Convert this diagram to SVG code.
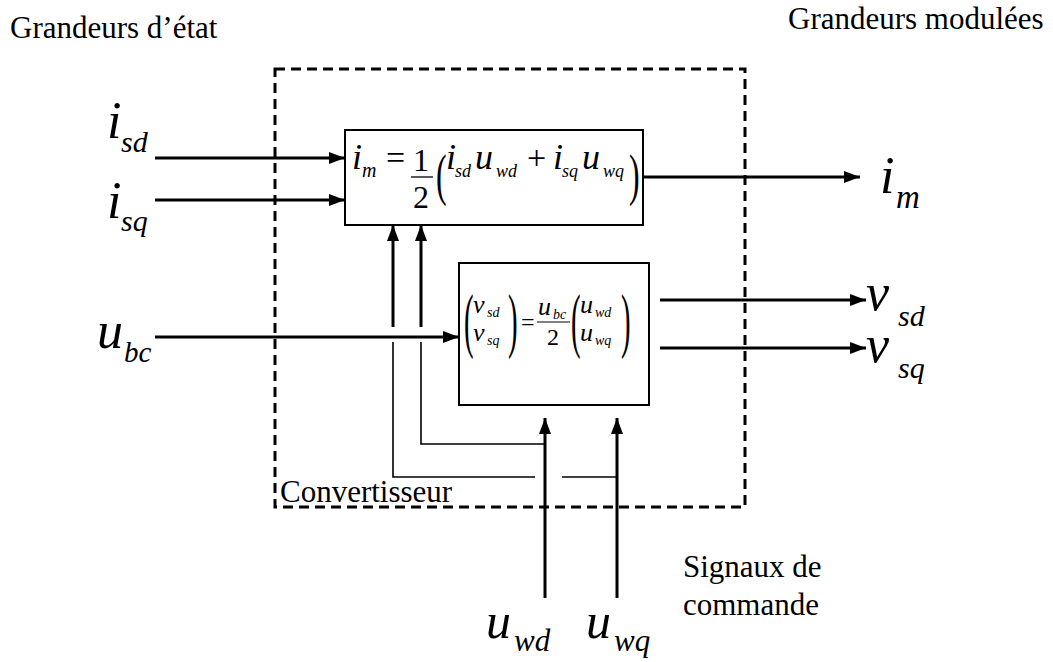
<svg xmlns="http://www.w3.org/2000/svg" width="1053" height="662" viewBox="0 0 1053 662" font-family="'Liberation Serif', 'Times New Roman', 'DejaVu Serif', serif">
<style>
text{font-family:"Liberation Serif","Times New Roman","DejaVu Serif",serif;fill:#000}
.lbl{font-size:31px}
.m{font-style:italic}
.thick{stroke:#000;stroke-width:3;fill:none}
.thin{stroke:#000;stroke-width:1.6;fill:none}
.box{stroke:#000;stroke-width:2;fill:#fff}
.dash{stroke:#000;stroke-width:3;fill:none;stroke-dasharray:10 6}
</style>
<defs>
<marker id="ah" markerUnits="userSpaceOnUse" markerWidth="16" markerHeight="12" refX="16" refY="6" orient="auto">
<path d="M0,0 L16,6 L0,12 Z" fill="#000"/>
</marker>
</defs>
<rect class="dash" x="275" y="69" width="470" height="438"/>
<text class="lbl" x="10" y="38">Grandeurs d’état</text>
<text class="lbl" x="788" y="29">Grandeurs modulées</text>
<text class="lbl" x="683" y="577">Signaux de</text>
<text class="lbl" x="683" y="615">commande</text>
<text class="lbl" x="280" y="502">Convertisseur</text>

<g id="connectors">
<line class="thick" x1="155" y1="158" x2="345" y2="158" marker-end="url(#ah)"/>
<line class="thick" x1="155" y1="200" x2="345" y2="200" marker-end="url(#ah)"/>
<line class="thick" x1="155" y1="337" x2="459" y2="337" marker-end="url(#ah)"/>
<line class="thick" x1="643" y1="177" x2="860" y2="177" marker-end="url(#ah)"/>
<line class="thick" x1="660" y1="300" x2="866" y2="300" marker-end="url(#ah)"/>
<line class="thick" x1="660" y1="348" x2="866" y2="348" marker-end="url(#ah)"/>
<line class="thick" x1="393" y1="327" x2="393" y2="225" marker-end="url(#ah)"/>
<line class="thick" x1="421" y1="327" x2="421" y2="225" marker-end="url(#ah)"/>
<polyline class="thin" points="393,342 393,477 535,477"/>
<polyline class="thin" points="562,477 617,477"/>
<polyline class="thin" points="421,342 421,444 545,444"/>
<line class="thick" x1="545" y1="598" x2="545" y2="418" marker-end="url(#ah)"/>
<line class="thick" x1="617" y1="598" x2="617" y2="418" marker-end="url(#ah)"/>
</g>

<g id="node-im">
<rect class="box" x="345" y="130" width="298" height="95"/>
<text class="m" x="352" y="169" font-size="36">i</text>
<text class="m" x="362" y="177" font-size="20">m</text>
<text x="386" y="169" font-size="34">=</text>
<text x="413" y="171" font-size="32">1</text>
<line x1="411" y1="177" x2="433" y2="177" stroke="#000" stroke-width="1.3"/>
<text x="413" y="208" font-size="32">2</text>
<text x="436" y="194" font-size="58" transform="translate(436 0) scale(0.55 1) translate(-436 0)">(</text>
<text class="m" x="446" y="169" font-size="36">i</text>
<text class="m" x="455" y="177" font-size="18">sd</text>
<text class="m" x="475" y="169" font-size="36">u</text>
<text class="m" x="496" y="177" font-size="18">wd</text>
<text x="527" y="169" font-size="34">+</text>
<text class="m" x="553" y="169" font-size="36">i</text>
<text class="m" x="562" y="177" font-size="18">sq</text>
<text class="m" x="582" y="169" font-size="36">u</text>
<text class="m" x="603" y="177" font-size="18">wq</text>
<text x="629" y="194" font-size="58" transform="translate(629 0) scale(0.55 1) translate(-629 0)">)</text>
</g>

<g id="node-v">
<rect class="box" x="459" y="263" width="190" height="142"/>
<text x="464" y="344" font-size="72" transform="translate(464 0) scale(0.4 1) translate(-464 0)">(</text>
<text class="m" x="473" y="313" font-size="26">v</text>
<text class="m" x="487" y="317" font-size="14">sd</text>
<text class="m" x="473" y="341" font-size="26">v</text>
<text class="m" x="487" y="345" font-size="14">sq</text>
<text x="508" y="344" font-size="72" transform="translate(508 0) scale(0.4 1) translate(-508 0)">)</text>
<text x="521" y="330" font-size="24">=</text>
<text class="m" x="538" y="315" font-size="26">u</text>
<text class="m" x="553" y="319" font-size="14">bc</text>
<line x1="537" y1="322" x2="570" y2="322" stroke="#000" stroke-width="1"/>
<text x="547" y="345" font-size="24">2</text>
<text x="571" y="344" font-size="72" transform="translate(571 0) scale(0.4 1) translate(-571 0)">(</text>
<text class="m" x="580" y="313" font-size="26">u</text>
<text class="m" x="595" y="317" font-size="14">wd</text>
<text class="m" x="580" y="341" font-size="26">u</text>
<text class="m" x="595" y="345" font-size="14">wq</text>
<text x="621" y="344" font-size="72" transform="translate(621 0) scale(0.4 1) translate(-621 0)">)</text>
</g>

<g id="label-isd">
<text class="m" x="107" y="138" font-size="52">i</text>
<text class="m" x="121" y="152" font-size="30">sd</text>
</g>
<g id="label-isq">
<text class="m" x="107" y="218" font-size="52">i</text>
<text class="m" x="121" y="231" font-size="30">sq</text>
</g>
<g id="label-ubc">
<text class="m" x="97" y="348" font-size="52">u</text>
<text class="m" x="124" y="362" font-size="29">bc</text>
</g>
<g id="label-uwd">
<text class="m" x="486" y="638" font-size="50">u</text>
<text class="m" x="514" y="651" font-size="31">wd</text>
</g>
<g id="label-uwq">
<text class="m" x="586" y="638" font-size="50">u</text>
<text class="m" x="614" y="651" font-size="31">wq</text>
</g>
<g id="label-im">
<text class="m" x="880" y="193" font-size="52">i</text>
<text class="m" x="896" y="208" font-size="33">m</text>
</g>
<g id="label-vsd">
<text class="m" x="866" y="310" font-size="52">v</text>
<text class="m" x="898" y="326" font-size="30">sd</text>
</g>
<g id="label-vsq">
<text class="m" x="866" y="362" font-size="52">v</text>
<text class="m" x="898" y="378" font-size="30">sq</text>
</g>
</svg>
